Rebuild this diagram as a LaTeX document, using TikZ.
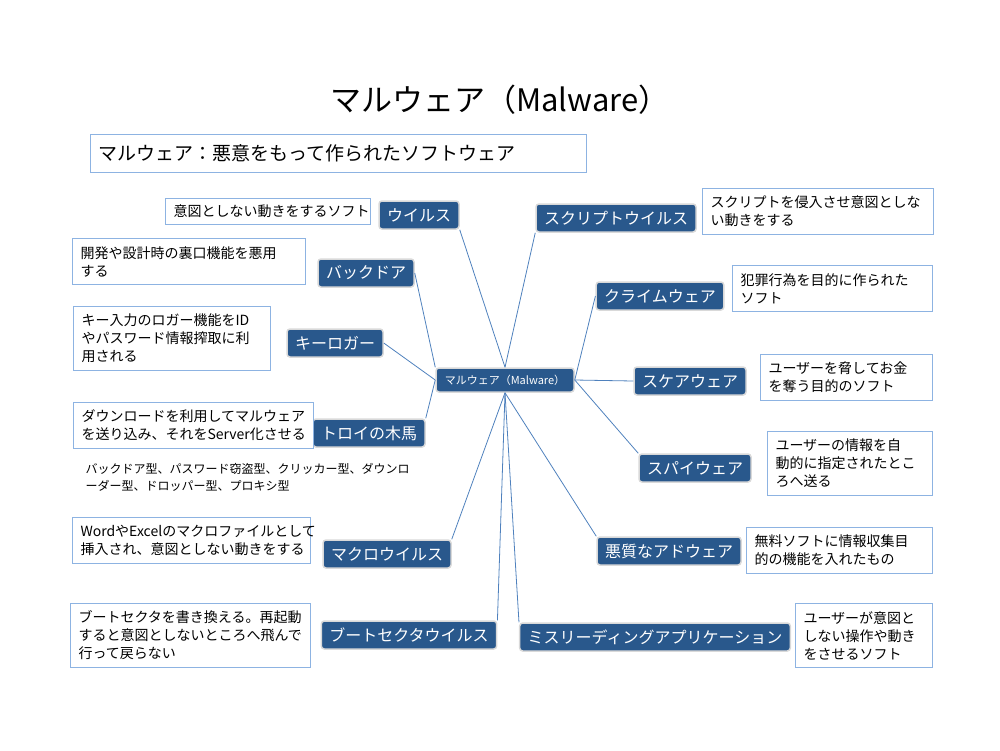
\documentclass[tikz,border=0pt]{standalone}
\usepackage{fontspec}
\setmainfont{Noto Sans CJK JP}
\usetikzlibrary{positioning}
\definecolor{nodeblue}{RGB}{41,88,140}
\definecolor{linkblue}{RGB}{79,129,189}
\definecolor{boxblue}{RGB}{141,179,226}
\tikzset{
  branch/.style={draw=white!85!black, line width=1.5pt, fill=nodeblue, text=white, rounded corners=3pt,
    font=\fontsize{16}{19}\selectfont, inner xsep=8pt, minimum height=28pt},
  note/.style={draw=boxblue, line width=1pt, fill=white, anchor=north west, align=left,
    font=\fontsize{14}{18}\selectfont, inner xsep=8pt, text width=#1, minimum height=46pt},
  link/.style={draw=linkblue, line width=0.8pt}
}
\begin{document}
\begin{tikzpicture}[x=1pt,y=-1pt]
\useasboundingbox (0,0) rectangle (1000,750);

% title
\node (title) at (500,100) {\fontsize{31}{36}\selectfont マルウェア（Malware）};
\node[draw=boxblue, line width=1pt, anchor=north west, minimum width=496pt, minimum height=38pt,
  text width=480pt, align=left, font=\fontsize{19}{22}\selectfont] (def) at (90,134) {マルウェア：悪意をもって作られたソフトウェア};

% hub
\node[branch, font=\fontsize{11}{13}\selectfont, minimum height=24pt, minimum width=138pt] (mal) at (505,380) {マルウェア（Malware）};

% branches, left
\node[branch] (virus) at (419,215) {ウイルス};
\node[branch] (back) at (366,273) {バックドア};
\node[branch] (keylog) at (335,343) {キーロガー};
\node[branch] (trojan) at (369,433) {トロイの木馬};
\node[branch] (macro) at (387,554) {マクロウイルス};
\node[branch] (boot) at (409,635) {ブートセクタウイルス};
% branches, right
\node[branch] (script) at (616,218) {スクリプトウイルス};
\node[branch] (crime) at (660,296) {クライムウェア};
\node[branch] (scare) at (690,381) {スケアウェア};
\node[branch] (spy) at (695,468) {スパイウェア};
\node[branch] (adware) at (669,551) {悪質なアドウェア};
\node[branch] (misl) at (655,637) {ミスリーディングアプリケーション};

% notes
\node[note=189pt, minimum height=26pt] (nvirus) at (165,198) {意図としない動きをするソフト};
\node[note=217pt] (nback) at (72,238) {開発や設計時の裏口機能を悪用\\する};
\node[note=181pt, minimum height=64pt] (nkeylog) at (73,306) {キー入力のロガー機能をID\\やパスワード情報搾取に利\\用される};
\node[note=224pt] (ntrojan) at (73,402) {ダウンロードを利用してマルウェア\\を送り込み、それをServer化させる};
\node[anchor=north west, align=left, text width=300pt, font=\fontsize{12}{17}\selectfont] (ntypes) at (82,460)
  {バックドア型、パスワード窃盗型、クリッカー型、ダウンロ\\ーダー型、ドロッパー型、プロキシ型};
\node[note=222pt] (nmacro) at (72,517) {WordやExcelのマクロファイルとして\\挿入され、意図としない動きをする};
\node[note=224pt, minimum height=64pt] (nboot) at (70,603) {ブートセクタを書き換える。再起動\\すると意図としないところへ飛んで\\行って戻らない};
\node[note=215pt] (nscript) at (702,188) {スクリプトを侵入させ意図としな\\い動きをする};
\node[note=184pt] (ncrime) at (732,265) {犯罪行為を目的に作られた\\ソフト};
\node[note=156pt] (nscare) at (760,354) {ユーザーを脅してお金\\を奪う目的のソフト};
\node[note=149pt, minimum height=64pt] (nspy) at (767,431) {ユーザーの情報を自\\動的に指定されたとこ\\ろへ送る};
\node[note=170pt] (nadware) at (746,527) {無料ソフトに情報収集目\\的の機能を入れたもの};
\node[note=121pt, minimum height=64pt] (nmisl) at (795,603) {ユーザーが意図と\\しない操作や動き\\をさせるソフト};

% connectors
\draw[link] (virus.south east) -- (mal.north);
\draw[link] (script.south west) -- (mal.north);
\draw[link] (back.east) -- (mal.north west);
\draw[link] (keylog.east) -- (mal.west);
\draw[link] (trojan.north east) -- (mal.west);
\draw[link] (macro.north east) -- (mal.south);
\draw[link] (boot.north east) -- (mal.south);
\draw[link] (adware.north west) -- (mal.south);
\draw[link] (misl.north west) -- (mal.south);
\draw[link] (crime.west) -- (mal.east);
\draw[link] (scare.west) -- (mal.east);
\draw[link] (spy.north west) -- (mal.east);
\end{tikzpicture}
\end{document}
